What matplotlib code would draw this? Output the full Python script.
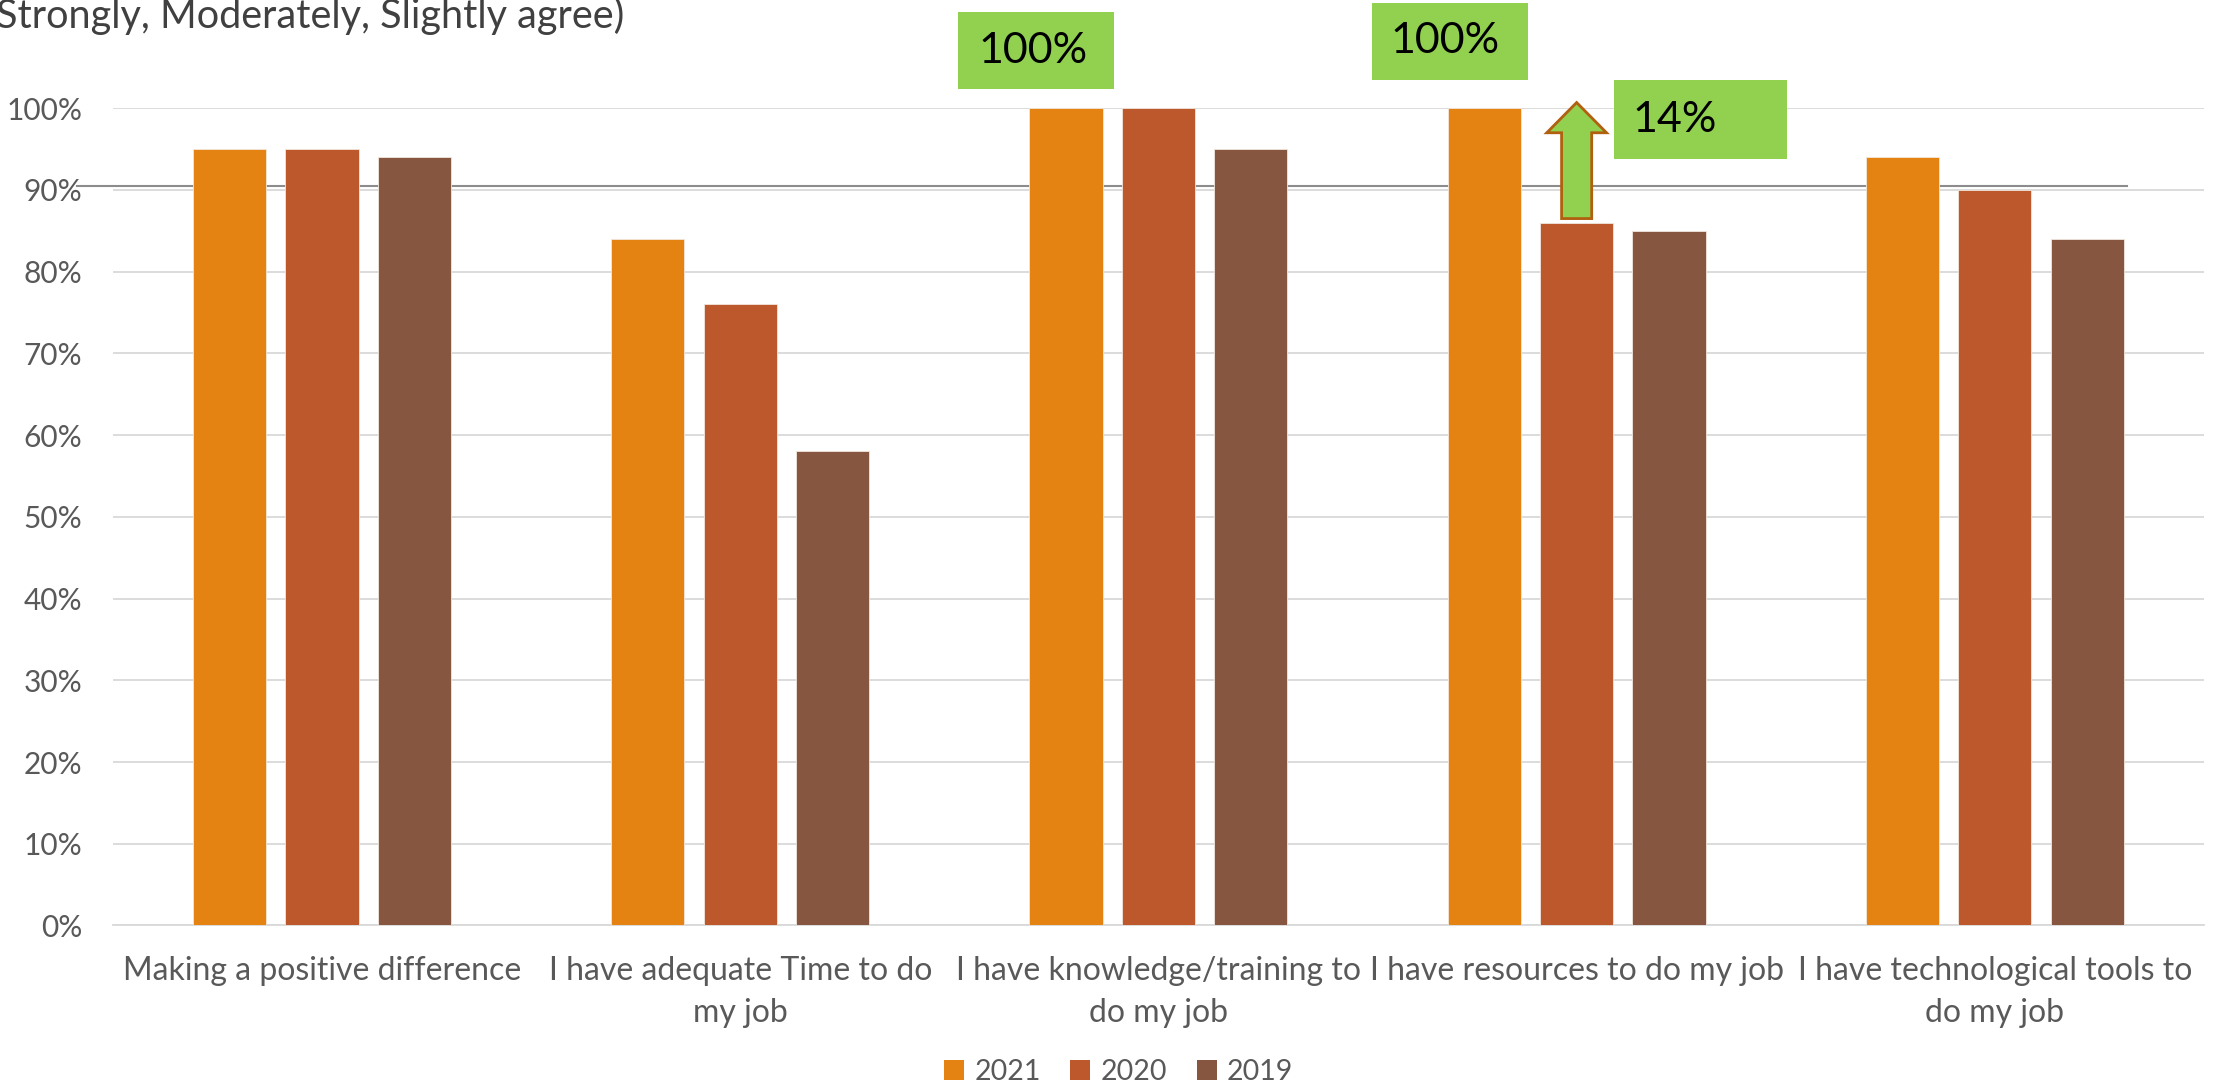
import numpy as np
import matplotlib.pyplot as plt
from matplotlib.patches import Patch, Rectangle, FancyArrow

plt.rcParams['font.family'] = ['Lato', 'DejaVu Sans']

# survey items and yearly agreement rates (%)
categories = [
    "Making a positive difference",
    "I have adequate Time to do\nmy job",
    "I have knowledge/training to\ndo my job",
    "I have resources to do my job",
    "I have technological tools to\ndo my job",
]
years = ["2021", "2020", "2019"]
agree_2021 = [95, 84, 100, 100, 94]
agree_2020 = [95, 76, 100, 86, 90]
agree_2019 = [94, 58, 95, 85, 84]
y_ticks = list(range(0, 101, 10))
ref_level = 90.5

colors = ["#E48312", "#BD582C", "#865640"]
green = "#92D050"
tick_grey = "#595959"

fig = plt.figure(figsize=(22.15, 10.88), dpi=100)
ax = fig.add_axes([0.0510, 0.1494, 0.9440, 0.7511])

x = np.arange(len(categories))
width = 0.175
step = 0.221
series = [agree_2021, agree_2020, agree_2019]
for i, (vals, c) in enumerate(zip(series, colors)):
    ax.bar(x + (i - 1) * step, vals, width, color=c, zorder=3,
           edgecolor="#f3e6dc", linewidth=0.6)

ax.set_xlim(-0.5, len(categories) - 0.5)
ax.set_ylim(0, 100)
ax.set_yticks(y_ticks)
ax.set_yticklabels([f"{t}%" for t in y_ticks])
ax.set_xticks(x)
ax.set_xticklabels(categories, linespacing=1.5)
ax.tick_params(axis="both", length=0, colors=tick_grey)
ax.tick_params(axis="y", pad=22, labelsize=21.5)
ax.tick_params(axis="x", pad=22, labelsize=23)
ax.grid(axis="y", color="#D9D9D9", linewidth=1.3, zorder=0)
for s in ["top", "right", "left"]:
    ax.spines[s].set_visible(False)
ax.spines["bottom"].set_color("#D9D9D9")
ax.spines["bottom"].set_linewidth(1.3)

# hand-drawn reference line just above 90%
ax.plot([-0.586, 4.316], [ref_level, ref_level], color="#8c8c8c",
        linewidth=1.5, zorder=2, clip_on=False)

# green callouts
def callout(x0, x1, y0, y1, tx, text):
    ax.add_patch(Rectangle((x0, y0), x1 - x0, y1 - y0, facecolor=green,
                           edgecolor="none", zorder=5, clip_on=False))
    ax.text(tx, (y0 + y1) / 2, text, ha="center", va="center",
            fontsize=31, color="black", zorder=6, clip_on=False)

callout(1.521, 1.894, 102.3, 111.8, 1.70, f"{agree_2021[2]}%")
callout(2.510, 2.884, 103.5, 112.9, 2.685, f"{agree_2021[3]}%")
gain = agree_2021[3] - agree_2020[3]
callout(3.089, 3.503, 93.8, 103.4, 3.235, f"{gain}%")

# arrow showing the rise for resources, 2020 -> 2021
tail = agree_2020[3] + 0.5
tip = agree_2021[3] + 0.7
ax.add_patch(FancyArrow(x[3], tail, 0, tip - tail, width=0.072,
                        head_width=0.143, head_length=3.7,
                        length_includes_head=True, facecolor=green,
                        edgecolor="#B0600F", linewidth=2, zorder=6,
                        clip_on=False))

# partial title line at the top edge
fig.text(-0.002, 1 - 28 / 1088, "Strongly, Moderately, Slightly agree)",
         fontsize=28.5, color="#404040", va="baseline")

handles = [Patch(facecolor=c, edgecolor="none") for c in colors]
fig.legend(handles, years, loc="center", bbox_to_anchor=(0.505, 0.0147),
           ncol=3, frameon=False, fontsize=20.5, labelcolor=tick_grey,
           handlelength=0.7, handleheight=0.7, handletextpad=0.35,
           columnspacing=1.05)

fig.savefig("out.png", dpi=100)
